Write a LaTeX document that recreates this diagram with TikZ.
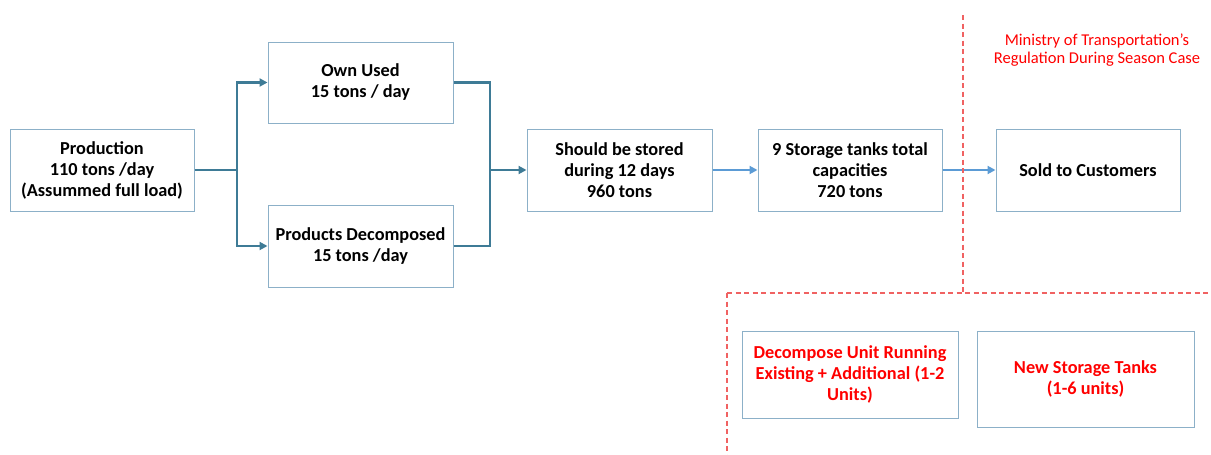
\documentclass[tikz,border=0pt]{standalone}
\usepackage{fontspec}
\setmainfont{Carlito}
\usetikzlibrary{arrows.meta}
\definecolor{boxline}{HTML}{8CB0C8}
\definecolor{darkflow}{HTML}{3E7B96}
\definecolor{lightflow}{HTML}{5B9BD5}
\definecolor{redtxt}{HTML}{FF0000}
\definecolor{reddash}{HTML}{F06262}
\tikzset{
  box/.style={draw=boxline, line width=1pt, align=center, inner sep=0pt,
    font=\fontsize{18.3}{21}\selectfont\bfseries, text=black},
  redbox/.style={box, text=redtxt},
  darkarrow/.style={draw=darkflow, line width=2.4pt, -{Triangle[length=8pt,width=8pt]}},
  darkline/.style={draw=darkflow, line width=2.4pt},
  lightarrow/.style={draw=lightflow, line width=2.4pt, -{Triangle[length=8pt,width=8pt]}},
  regdash/.style={draw=reddash, line width=1.1pt, dash pattern=on 5pt off 3.5pt},
}
\begin{document}
\begin{tikzpicture}[x=1pt,y=-1pt]
\useasboundingbox (0,0) rectangle (1211,455);
\node[box, minimum width=184pt, minimum height=82pt] (prod) at (102,170) {Production\\110 tons /day\\(Assummed full load)};
\node[box, minimum width=185pt, minimum height=81pt] (own) at (360.5,82.5) {Own Used\\15 tons / day};
\node[box, minimum width=185pt, minimum height=82pt] (dec) at (360.5,246) {Products Decomposed\\15 tons /day};
\node[box, minimum width=185pt, minimum height=82pt] (store) at (619.5,170) {Should be stored\\during 12 days\\960 tons};
\node[box, minimum width=184pt, minimum height=82pt] (tanks) at (850,170) {9 Storage tanks total\\capacities\\720 tons};
\node[box, minimum width=184pt, minimum height=82pt] (sold) at (1088,170) {Sold to Customers};
\node[redbox, minimum width=216pt, minimum height=87pt] (unit) at (850,374.5) {Decompose Unit Running\\Existing + Additional (1-2\\Units)};
\node[redbox, minimum width=217pt, minimum height=96pt] (newtanks) at (1085.5,379) {New Storage Tanks\\(1-6 units)};
\node[align=center, text=redtxt, font=\fontsize{16.5}{18}\selectfont] (ministry) at (1097,50) {Ministry of Transportation’s\\Regulation During Season Case};

\coordinate (split) at (237,170);
\coordinate (merge) at (490,170);
\draw[darkline] (prod.east) -- (split);
\draw[darkarrow] (split) |- (own.west);
\draw[darkarrow] (split) |- (dec.west);
\draw[darkline] (own.east) -| (merge);
\draw[darkline] (dec.east) -| (merge);
\draw[darkarrow] (merge) -- (store.west);
\draw[lightarrow] (store.east) -- (tanks.west);
\draw[lightarrow] (tanks.east) -- (sold.west);

\coordinate (d1) at (963,15);
\coordinate (d2) at (963,293);
\coordinate (d3) at (727,293);
\coordinate (d4) at (1211,293);
\coordinate (d5) at (727,455);
\draw[regdash] (d1) -- (d2);
\draw[regdash] (d3) -- (d4);
\draw[regdash] (d3) -- (d5);
\end{tikzpicture}
\end{document}
